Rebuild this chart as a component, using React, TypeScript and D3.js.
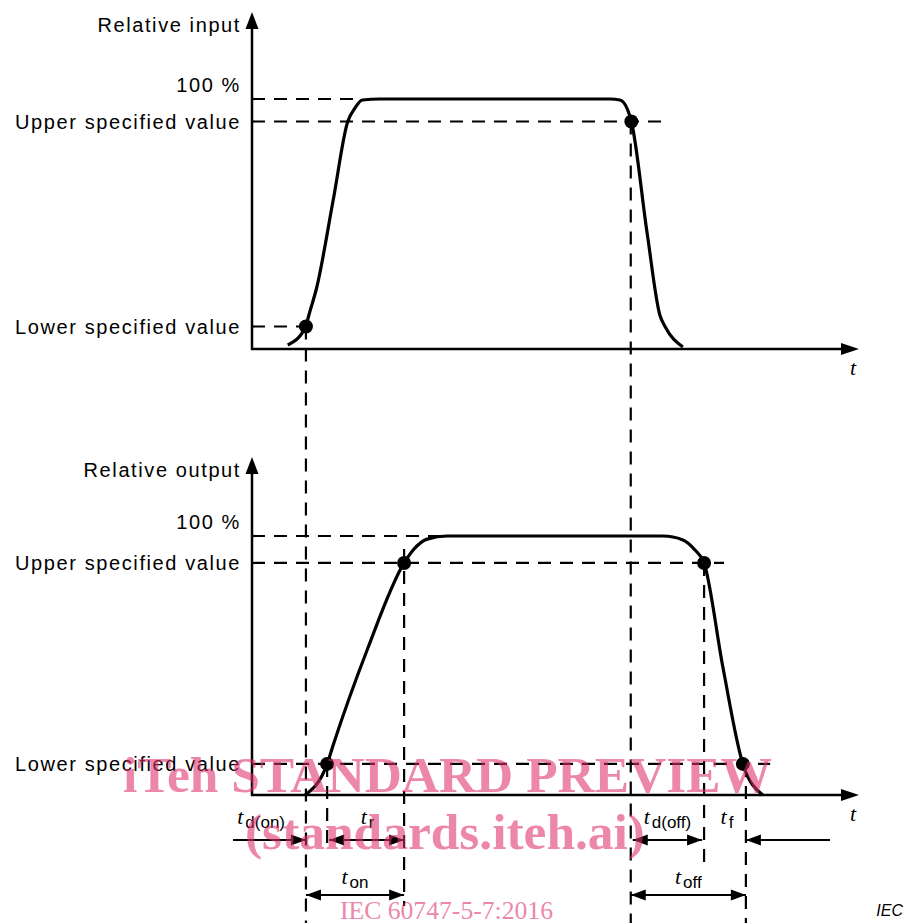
import React, { useRef, useEffect } from 'react';
import { select, scaleLinear, line, curveMonotoneX } from 'd3';

// time in arbitrary units (0..100 along the t axis), level in % of full scale
const inputTime = [5.9, 8.9, 9.3, 10.7, 13.4, 15.8, 17.0, 18.2, 21.1, 59.1, 60.7, 62.0, 62.6, 65.2, 67.3, 68.2, 71.1];
const inputLevel = [1.6, 9, 12.8, 24.8, 59.6, 91, 96.4, 99.6, 100, 100, 99.6, 95.6, 91, 46.4, 13.6, 8.8, 0.8];

const outputTime = [8.75, 12.4, 13.4, 19.0, 25.1, 26.6, 28.9, 32.2, 67.8, 71.1, 73.1, 74.6, 77.7, 81.0, 84.3];
const outputLevel = [0, 12, 19.3, 56, 89.6, 94.6, 98.8, 100, 100, 98.5, 94.6, 89.6, 49.4, 12, 0];

const levelLabels = ['100 %', 'Upper specified value', 'Lower specified value'];
const inputLevels = [100, 91, 9];
const outputLevels = [100, 89.6, 12];
const inputGuideEnd = [17.8, 67.8, 8.9];
const outputGuideEnd = [31, 77.9, 85.5];

// switching instants: d(on) start, rise start, rise end, d(off) start, fall start, fall end
const instants = [8.9, 12.4, 25.1, 62.5, 74.6, 81.5];
const inputDots = [[8.9, 9], [62.6, 91]];
const outputDots = [[12.4, 12], [25.1, 89.6], [74.6, 89.6], [81.0, 12]];

const FONT = '"Liberation Sans", Arial, sans-serif';
const SERIF = '"Liberation Serif", "Times New Roman", serif';

function App() {
  const svgRef = useRef<SVGSVGElement>(null);

  useEffect(() => {
    const svg = select(svgRef.current);
    svg.selectAll('*').remove();

    const x = scaleLinear().domain([0, 100]).range([252, 858]);
    const yIn = scaleLinear().domain([0, 100]).range([349, 99]);
    const yOut = scaleLinear().domain([0, 100]).range([795, 536]);

    const arrowHead = (tipX: number, tipY: number, dir: string, len: number, hw: number) => {
      let d = '';
      if (dir === 'up') d = `M${tipX},${tipY}L${tipX - hw},${tipY + len}L${tipX + hw},${tipY + len}Z`;
      if (dir === 'right') d = `M${tipX},${tipY}L${tipX - len},${tipY - hw}L${tipX - len},${tipY + hw}Z`;
      if (dir === 'left') d = `M${tipX},${tipY}L${tipX + len},${tipY - hw}L${tipX + len},${tipY + hw}Z`;
      svg.append('path').attr('d', d).attr('fill', '#000');
    };

    const dashed = (x1: number, y1: number, x2: number, y2: number) => {
      svg.append('line')
        .attr('x1', x1).attr('y1', y1).attr('x2', x2).attr('y2', y2)
        .attr('stroke', '#000')
        .attr('stroke-width', 2.2)
        .attr('stroke-dasharray', '13 9');
    };

    const panels = [
      { y: yIn, title: 'Relative input', tip: 12, levels: inputLevels, ends: inputGuideEnd, time: inputTime, lvl: inputLevel, dots: inputDots },
      { y: yOut, title: 'Relative output', tip: 457, levels: outputLevels, ends: outputGuideEnd, time: outputTime, lvl: outputLevel, dots: outputDots },
    ];

    panels.forEach(p => {
      const base = p.y(0);
      // horizontal guides
      p.levels.forEach((lv, i) => {
        dashed(x(0), p.y(lv), x(p.ends[i]), p.y(lv));
        svg.append('text')
          .attr('x', 241)
          .attr('y', i === 0 ? p.y(lv) - 7 : p.y(lv) + 7)
          .attr('text-anchor', 'end')
          .style('font-family', FONT)
          .style('font-size', '20px')
          .style('letter-spacing', '1.6px')
          .text(levelLabels[i]);
      });

      // axes
      svg.append('line')
        .attr('x1', x(0)).attr('y1', base + 1).attr('x2', x(0)).attr('y2', p.tip + 10)
        .attr('stroke', '#000').attr('stroke-width', 2.5);
      arrowHead(x(0), p.tip, 'up', 17, 6.5);
      svg.append('line')
        .attr('x1', x(0) - 1).attr('y1', base).attr('x2', x(100) - 8).attr('y2', base)
        .attr('stroke', '#000').attr('stroke-width', 2.5);
      arrowHead(x(100) + 1, base, 'right', 18, 6);

      svg.append('text')
        .attr('x', 241).attr('y', p.tip + 20)
        .attr('text-anchor', 'end')
        .style('font-family', FONT)
        .style('font-size', '20px')
        .style('letter-spacing', '1.6px')
        .text(p.title);

      svg.append('text')
        .attr('x', 850).attr('y', base + 26)
        .style('font-family', SERIF)
        .style('font-style', 'italic')
        .style('font-size', '22px')
        .text('t');

      // waveform
      const wave = line<number>()
        .x((d, i) => x(p.time[i]))
        .y(d => p.y(d))
        .curve(curveMonotoneX);
      svg.append('path')
        .datum(p.lvl)
        .attr('d', wave)
        .attr('fill', 'none')
        .attr('stroke', '#000')
        .attr('stroke-width', 3.2)
        .attr('stroke-linejoin', 'round');

      svg.selectAll(null)
        .data(p.dots)
        .join('circle')
        .attr('cx', d => x(d[0]))
        .attr('cy', d => p.y(d[1]))
        .attr('r', 7)
        .attr('fill', '#000');
    });

    // vertical guides
    dashed(x(instants[0]), yIn(inputLevels[2]), x(instants[0]), 923);
    dashed(x(instants[3]), yIn(inputLevels[1]), x(instants[3]), 923);
    dashed(x(instants[1]), yOut(outputLevels[2]), x(instants[1]), 850);
    dashed(x(instants[2]), yOut(outputLevels[1]) - 14, x(instants[2]), 906);
    dashed(x(instants[4]), yOut(outputLevels[1]), x(instants[4]), 866);
    dashed(x(instants[5]), yOut(outputLevels[2]), x(instants[5]), 923);

    // dimension arrows
    const span = (x1: number, x2: number, yy: number, startHead: boolean, endHead: boolean) => {
      svg.append('line')
        .attr('x1', x1).attr('y1', yy).attr('x2', x2).attr('y2', yy)
        .attr('stroke', '#000').attr('stroke-width', 2);
      if (startHead) arrowHead(x1, yy, x1 < x2 ? 'left' : 'right', 15, 5.5);
      if (endHead) arrowHead(x2, yy, x2 > x1 ? 'right' : 'left', 15, 5.5);
    };
    const row1 = 840;
    const row2 = 895;
    span(233, x(instants[0]), row1, false, true);
    span(x(instants[1]) + 2, x(instants[2]), row1, true, true);
    span(x(instants[3]) + 2, x(instants[4]) - 2, row1, true, true);
    span(830, x(instants[5]), row1, false, true);
    span(x(instants[0]), x(instants[2]), row2, true, true);
    span(x(instants[3]), x(instants[5]), row2, true, true);

    const label = (cx: number, yy: number, sub: string, anchor: string) => {
      const t = svg.append('text')
        .attr('x', cx).attr('y', yy)
        .attr('text-anchor', anchor);
      t.append('tspan')
        .style('font-family', SERIF)
        .style('font-style', 'italic')
        .style('font-size', '22px')
        .text('t');
      t.append('tspan')
        .attr('dx', 2)
        .attr('dy', 4)
        .style('font-family', FONT)
        .style('font-size', '17px')
        .text(sub);
    };
    label(285, 824, 'd(on)', 'end');
    label((x(instants[1]) + x(instants[2])) / 2 + 2, 824, 'r', 'middle');
    label((x(instants[3]) + x(instants[4])) / 2, 824, 'd(off)', 'middle');
    label((x(instants[4]) + x(instants[5])) / 2 + 2, 824, 'f', 'middle');
    label((x(instants[0]) + x(instants[2])) / 2, 884, 'on', 'middle');
    label((x(instants[3]) + x(instants[5])) / 2, 884, 'off', 'middle');

    svg.append('text')
      .attr('x', 903).attr('y', 916)
      .attr('text-anchor', 'end')
      .style('font-family', FONT)
      .style('font-style', 'italic')
      .style('font-size', '16px')
      .text('IEC');

    // watermark
    const mark = svg.append('g')
      .attr('fill', '#e0306f')
      .attr('opacity', 0.58)
      .style('font-family', SERIF);
    mark.append('text')
      .attr('x', 123).attr('y', 792)
      .attr('textLength', 649).attr('lengthAdjust', 'spacingAndGlyphs')
      .style('font-size', '51px').style('font-weight', 'bold')
      .text('iTeh STANDARD PREVIEW');
    mark.append('text')
      .attr('x', 245).attr('y', 849)
      .attr('textLength', 400).attr('lengthAdjust', 'spacingAndGlyphs')
      .style('font-size', '51px').style('font-weight', 'bold')
      .text('(standards.iteh.ai)');
    mark.append('text')
      .attr('x', 340).attr('y', 919)
      .attr('textLength', 213).attr('lengthAdjust', 'spacingAndGlyphs')
      .style('font-size', '25px')
      .text('IEC 60747-5-7:2016');
  }, []);

  return (
    <svg
      ref={svgRef}
      width={908}
      height={923}
      style={{ position: 'absolute', left: 0, top: 0, background: '#fff' }}
    />
  );
}

export default App;
